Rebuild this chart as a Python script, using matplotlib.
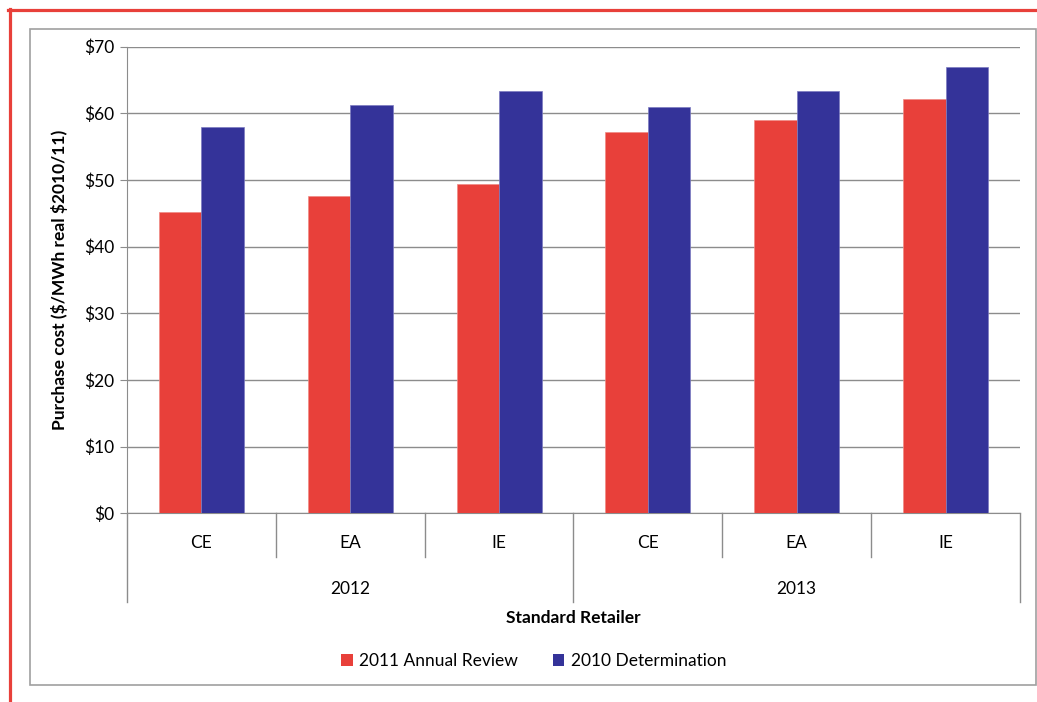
import matplotlib
matplotlib.use("Agg")
import matplotlib.pyplot as plt
from matplotlib.lines import Line2D
from matplotlib.patches import Patch, Rectangle
import numpy as np

plt.rcParams['font.family'] = ['Lato', 'DejaVu Sans']

retailers = ["CE", "EA", "IE", "CE", "EA", "IE"]
years = ["2012", "2013"]
series_names = ["2011 Annual Review", "2010 Determination"]
annual_review_2011 = [45.2, 47.6, 49.4, 57.2, 59.0, 62.2]
determination_2010 = [57.9, 61.3, 63.4, 61.0, 63.3, 66.9]
yticks = [0, 10, 20, 30, 40, 50, 60, 70]
ytick_labels = ["\\$0", "\\$10", "\\$20", "\\$30", "\\$40", "\\$50", "\\$60", "\\$70"]

RED = "#E8403A"
BLUE = "#343399"
GRID = "#8C8C8C"

W, H = 1037, 702
fig = plt.figure(figsize=(W / 100, H / 100), dpi=100)
fig.patch.set_facecolor("white")

def fx(px):
    return px / W
def fy(py):
    return 1 - py / H

fig.add_artist(Line2D([fx(8), fx(1037)], [fy(10), fy(10)], color=RED, lw=2.3, transform=fig.transFigure))
fig.add_artist(Line2D([fx(9.5), fx(9.5)], [fy(9), fy(702)], color=RED, lw=2.3, transform=fig.transFigure))
fig.add_artist(Rectangle((fx(30), fy(685)), fx(1036) - fx(30), fy(29) - fy(685),
                         fill=False, edgecolor="#A0A0A0", lw=1.2, transform=fig.transFigure))

left, right, top, bottom = 127, 1020, 46.7, 513.3
ax = fig.add_axes([fx(left), fy(bottom), fx(right) - fx(left), fy(top) - fy(bottom)])
axh = bottom - top

x = np.arange(len(retailers))
bw = 0.286
ax.bar(x - bw / 2, annual_review_2011, width=bw, color=RED, edgecolor="#F08A84", linewidth=0.5, zorder=3)
ax.bar(x + bw / 2, determination_2010, width=bw, color=BLUE, edgecolor="#7B7BC0", linewidth=0.5, zorder=3)

ax.set_xlim(-0.5, len(retailers) - 0.5)
ax.set_ylim(0, 70)
ax.set_yticks(yticks)
ax.set_yticklabels(ytick_labels, fontsize=12.5, color="#000000")
ax.set_xticks([])
ax.yaxis.grid(True, color=GRID, lw=1.0, zorder=0)
ax.set_axisbelow(True)
for s in ["top", "right"]:
    ax.spines[s].set_visible(False)
ax.spines["left"].set_color(GRID)
ax.spines["bottom"].set_color(GRID)
ax.tick_params(axis="y", length=5, color=GRID, pad=4)

ax.set_ylabel("Purchase cost (\\$/MWh real \\$2010/11)", fontsize=12.5, fontweight="bold")
ax.yaxis.set_label_coords(-(left - 68) / (right - left), 0.5)

tr = ax.get_xaxis_transform()
def ay(py):
    return -(py - bottom) / axh

for i in range(len(retailers) + 1):
    xb = i - 0.5
    long_line = (i % 3 == 0)
    yend = ay(602) if long_line else ay(556.7)
    ax.add_line(Line2D([xb, xb], [0, yend], color=GRID, lw=1.0, transform=tr, clip_on=False))

for i, r in enumerate(retailers):
    ax.text(i, ay(543), r, transform=tr, ha="center", va="center", fontsize=12.5)
for j, yv in enumerate(years):
    ax.text(1 + 3 * j, ay(589), yv, transform=tr, ha="center", va="center", fontsize=12.5)

fig.text(fx(573.5), fy(618), "Standard Retailer", ha="center", va="center", fontsize=12.5, fontweight="bold")

handles = [Patch(facecolor=RED, edgecolor="none"), Patch(facecolor=BLUE, edgecolor="none")]
fig.legend(handles, series_names, loc="center", bbox_to_anchor=(fx(534), fy(661)), ncol=2,
           frameon=False, fontsize=12.5, handlelength=0.65, handleheight=0.65, handletextpad=0.4,
           columnspacing=2.0, borderaxespad=0)

fig.savefig("out.png", dpi=100, facecolor="white")
